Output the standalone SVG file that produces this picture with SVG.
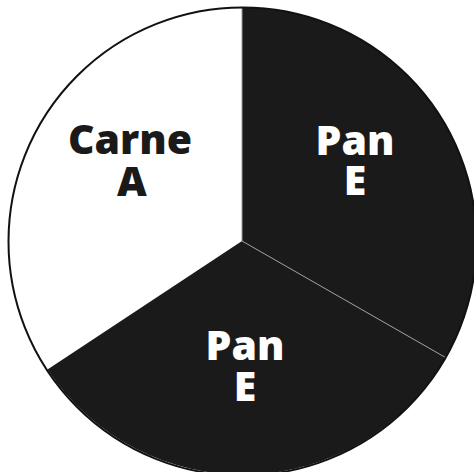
<svg xmlns="http://www.w3.org/2000/svg" width="474" height="472" viewBox="0 0 474 472">
  <style>
    .dark { fill: #1a1a1a; }
    .light { fill: #ffffff; }
    .div { stroke: #9a9a9a; stroke-width: 1; fill: none; }
    .lbl { font-family: "Open Sans", "Liberation Sans", sans-serif; font-weight: 800; font-size: 41px; text-anchor: middle; }
    .lbl-dark { fill: #1a1a1a; }
    .lbl-light { fill: #ffffff; }
  </style>
  <rect width="474" height="472" fill="#ffffff"/>
  <g id="slice-carne">
    <path class="light" d="M242,241 L242,7.5 A234,234 0 0,0 47.5,369.5 Z"/>
    <text class="lbl lbl-dark" x="130" y="154"><tspan x="130">Carne</tspan><tspan x="132" dy="42">A</tspan></text>
  </g>
  <g id="slice-pan-1">
    <path class="dark" d="M242,241 L242,7.5 A234,234 0 0,1 445.5,357.5 Z"/>
    <text class="lbl lbl-light" x="355" y="155"><tspan x="355">Pan</tspan><tspan x="355" dy="40">E</tspan></text>
  </g>
  <g id="slice-pan-2">
    <path class="dark" d="M242,241 L445.5,357.5 A234,234 0 0,1 47.5,369.5 Z"/>
    <text class="lbl lbl-light" x="245" y="360"><tspan x="245">Pan</tspan><tspan x="245" dy="41">E</tspan></text>
  </g>
  <g id="connectors">
    <line class="div" x1="242" y1="241" x2="242" y2="7.5"/>
    <line class="div" x1="242" y1="241" x2="445.5" y2="357.5"/>
    <circle cx="242.5" cy="241.5" r="234" fill="none" stroke="#111" stroke-width="2"/>
  </g>
</svg>
